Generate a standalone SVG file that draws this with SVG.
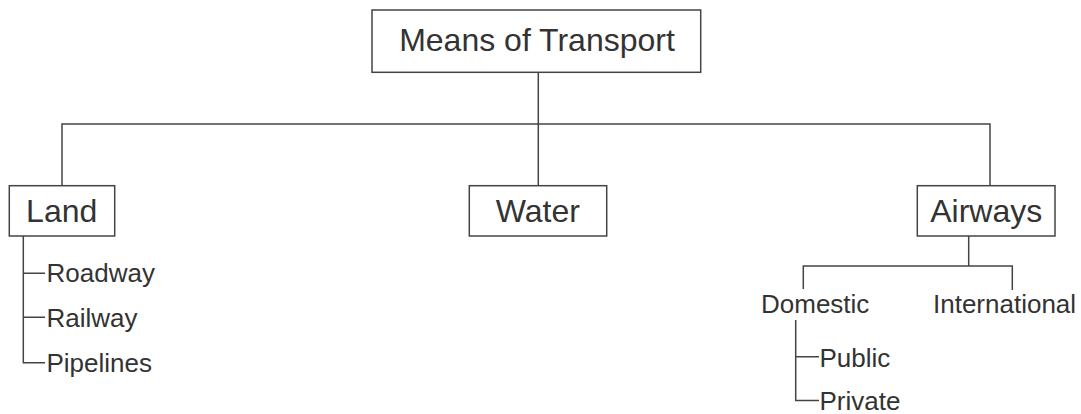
<svg xmlns="http://www.w3.org/2000/svg" width="1081" height="414" viewBox="0 0 1081 414">
<style>
.box{fill:#fff;stroke:#444;stroke-width:1.5}
.ln{fill:none;stroke:#444;stroke-width:1.5}
.t1{font-family:"Liberation Sans",Arial,sans-serif;font-size:32px;fill:#333;text-anchor:middle}
.t2{font-family:"Liberation Sans",Arial,sans-serif;font-size:26px;fill:#333}
</style>
<rect width="1081" height="414" fill="#fff"/>
<g id="connectors">
<path class="ln" d="M538.3 72.3V124M62 185.7V124H990V185.7M538.3 124V185.7"/>
<path class="ln" d="M23.3 236V362.7H45M23.3 273.3H45M23.3 317.3H45"/>
<path class="ln" d="M968.7 236V266M803.3 289V266H1012.3V290"/>
<path class="ln" d="M795.7 320V400.5H819M795.7 356.7H819"/>
</g>
<g id="root"><rect class="box" x="372" y="10" width="328.7" height="62.3"/><text class="t1" x="537" y="50.5">Means of Transport</text></g>
<g id="land"><rect class="box" x="9.3" y="185.7" width="105.4" height="50.3"/><text class="t1" x="61.7" y="222">Land</text></g>
<g id="water"><rect class="box" x="469.3" y="185.7" width="137.4" height="50.3"/><text class="t1" x="537.8" y="222">Water</text></g>
<g id="airways"><rect class="box" x="917.3" y="185.7" width="137.7" height="50.3"/><text class="t1" x="986.2" y="222">Airways</text></g>
<g id="roadway"><text class="t2" x="46.5" y="281.7">Roadway</text></g>
<g id="railway"><text class="t2" x="46.5" y="326.7">Railway</text></g>
<g id="pipelines"><text class="t2" x="46.5" y="371.7">Pipelines</text></g>
<g id="domestic"><text class="t2" x="761" y="313.3">Domestic</text></g>
<g id="international"><text class="t2" x="933" y="313.3">International</text></g>
<g id="public"><text class="t2" x="819.5" y="367">Public</text></g>
<g id="private"><text class="t2" x="819.5" y="409.5">Private</text></g>
</svg>
